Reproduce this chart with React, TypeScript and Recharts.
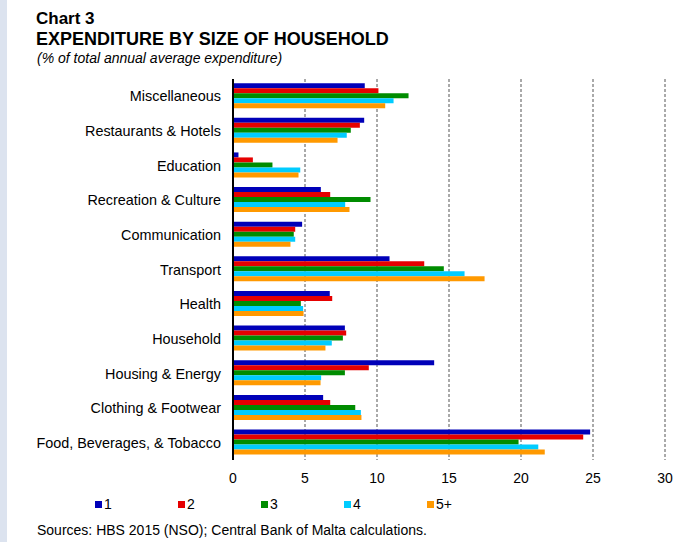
import React from 'react';
import { BarChart, Bar, XAxis, YAxis, CartesianGrid } from 'recharts';

const categories = [
  'Miscellaneous',
  'Restaurants & Hotels',
  'Education',
  'Recreation & Culture',
  'Communication',
  'Transport',
  'Health',
  'Household',
  'Housing & Energy',
  'Clothing & Footwear',
  'Food, Beverages, & Tobacco',
];
const size1 = [9.15, 9.11, 0.38, 6.1, 4.8, 10.87, 6.72, 7.77, 13.97, 6.26, 24.8];
const size2 = [10.1, 8.81, 1.38, 6.75, 4.32, 13.28, 6.89, 7.86, 9.43, 6.75, 24.32];
const size3 = [12.19, 8.18, 2.74, 9.55, 4.22, 14.64, 4.71, 7.63, 7.77, 8.49, 19.83];
const size4 = [11.15, 7.9, 4.67, 7.79, 4.32, 16.08, 4.87, 6.86, 6.12, 8.88, 21.2];
const size5 = [10.57, 7.26, 4.55, 8.09, 3.99, 17.47, 4.9, 6.42, 6.08, 8.92, 21.65];
const seriesNames = ['1', '2', '3', '4', '5+'];
const xTicks = [0, 5, 10, 15, 20, 25, 30];

const colors = ['#0000b8', '#e60000', '#008c00', '#00ccff', '#ff9900'];
const FONT = '"Liberation Sans", Arial, sans-serif';

const data = categories.map((name, i) => ({
  name,
  s1: size1[i],
  s2: size2[i],
  s3: size3[i],
  s4: size4[i],
  s5: size5[i],
}));
const keys = ['s1', 's2', 's3', 's4', 's5'];

export default function App() {
  return (
    <div style={{ position: 'absolute', left: 0, top: 0, width: 692, height: 542, background: '#fff', fontFamily: FONT, overflow: 'hidden' }}>
      <div style={{ position: 'absolute', left: 0, top: 0, width: 7, height: 542, background: '#dce3ef' }} />
      <div style={{ position: 'absolute', left: 36, top: 9, fontSize: 17, fontWeight: 'bold', color: '#000', lineHeight: '19px' }}>Chart 3</div>
      <div style={{ position: 'absolute', left: 36, top: 29, fontSize: 18, fontWeight: 'bold', color: '#000', lineHeight: '20px', whiteSpace: 'nowrap' }}>EXPENDITURE BY SIZE OF HOUSEHOLD</div>
      <div style={{ position: 'absolute', left: 37, top: 50, fontSize: 14, fontStyle: 'italic', color: '#000', lineHeight: '16px', whiteSpace: 'nowrap' }}>(% of total annual average expenditure)</div>
      <div style={{ position: 'absolute', left: 0, top: 0 }}>
        <BarChart
          width={692}
          height={490}
          data={data}
          layout="vertical"
          margin={{ top: 79, right: 27, left: 0, bottom: 0 }}
          barCategoryGap="12%"
          barGap={0}
        >
          <CartesianGrid horizontal={false} vertical={true} stroke="#555" strokeDasharray="3 2" />
          <XAxis
            type="number"
            domain={[0, 30]}
            ticks={xTicks}
            interval={0}
            axisLine={false}
            tickLine={false}
            tickSize={6}
            tickMargin={7}
            height={30}
            tick={{ fontSize: 14, fill: '#000', fontFamily: FONT }}
          />
          <YAxis
            type="category"
            dataKey="name"
            width={233}
            interval={0}
            tickLine={false}
            tickSize={0}
            tickMargin={12}
            axisLine={{ stroke: '#000', strokeWidth: 2 }}
            tick={{ fontSize: 14.4, fill: '#000', fontFamily: FONT }}
          />
          {keys.map((k, i) => (
            <Bar key={k} dataKey={k} name={seriesNames[i]} fill={colors[i]} isAnimationActive={false} />
          ))}
        </BarChart>
      </div>
      {seriesNames.map((n, i) => (
        <div
          key={n}
          style={{
            position: 'absolute',
            left: 95 + 83 * i,
            top: 496,
            display: 'flex',
            alignItems: 'center',
            fontSize: 14,
            color: '#000',
            lineHeight: '16px',
          }}
        >
          <span style={{ display: 'inline-block', width: 7, height: 7, background: colors[i], marginRight: 2 }} />
          <span>{n}</span>
        </div>
      ))}
      <div style={{ position: 'absolute', left: 37, top: 522, fontSize: 14, color: '#000', lineHeight: '16px', whiteSpace: 'nowrap' }}>Sources: HBS 2015 (NSO); Central Bank of Malta calculations.</div>
    </div>
  );
}
